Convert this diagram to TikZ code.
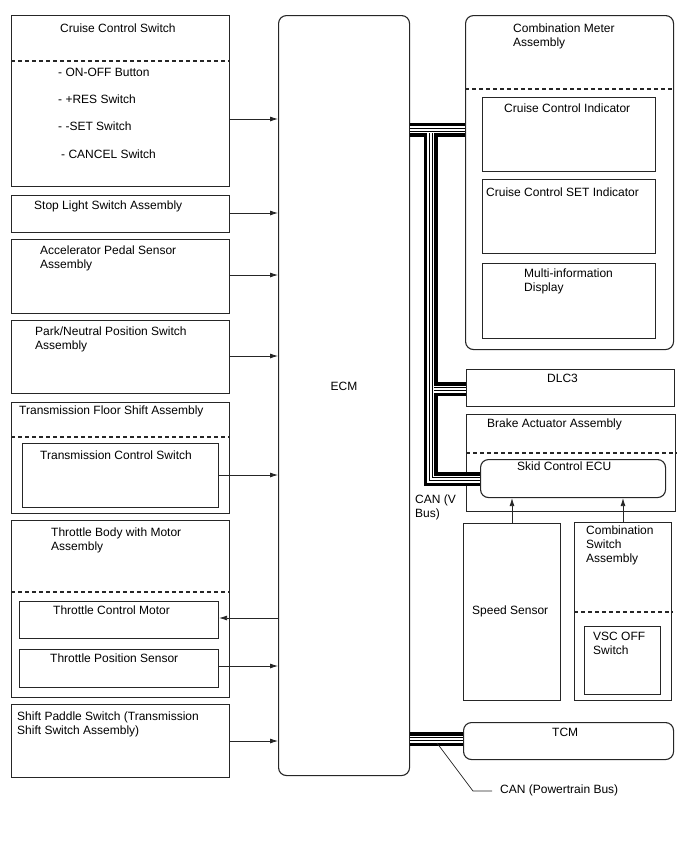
\documentclass[tikz,border=0pt]{standalone}
\usepackage{fontspec}
\setmainfont{Liberation Sans}
\usepackage{tikz}
\usetikzlibrary{arrows.meta}

\begin{document}
\begin{tikzpicture}[x=1pt,y=-1pt,
  every node/.style={font=\fontsize{12}{14}\selectfont},
  blk/.style={draw=black!85, line width=1.1pt, anchor=north west, inner sep=0pt},
  rblk/.style={blk, rounded corners=8pt},
  lbl/.style={anchor=north west, inner sep=0pt, align=left},
  dsh/.style={draw=black!85, line width=1.1pt, dash pattern=on 4pt off 3pt},
  sig/.style={draw=black!85, line width=0.8pt, -{Latex[length=8pt,width=5pt]}},
  canbus/.style={draw=white, line width=2pt,
    preaction={draw=black, line width=14pt},
    preaction={draw=white, line width=7pt},
    preaction={draw=black, line width=4pt}}]
\useasboundingbox (0,0) rectangle (688,852);

% left column
\node[blk, minimum width=218, minimum height=171] (ccs) at (11,15) {};
\draw[dsh] (ccs.west |- 0,61) -- (ccs.east |- 0,61);
\node[lbl] (ccs_t) at (60,24) {Cruise Control Switch};
\node[lbl] (ccs_a) at (58,68) {- ON-OFF Button};
\node[lbl] (ccs_b) at (58,94.5) {- +RES Switch};
\node[lbl] (ccs_c) at (58,122) {- -SET Switch};
\node[lbl] (ccs_d) at (61,150) {- CANCEL Switch};

\node[blk, minimum width=218, minimum height=37] (stp) at (11,195) {};
\node[lbl] (stp_t) at (34,200.5) {Stop Light Switch Assembly};

\node[blk, minimum width=218, minimum height=74] (acc) at (11,239) {};
\node[lbl] (acc_t) at (40,245.5) {Accelerator Pedal Sensor\\Assembly};

\node[blk, minimum width=218, minimum height=73] (pnp) at (11,320) {};
\node[lbl] (pnp_t) at (35,326.5) {Park/Neutral Position Switch\\Assembly};

\node[blk, minimum width=218, minimum height=111] (tfs) at (11,402) {};
\draw[dsh] (tfs.west |- 0,437) -- (tfs.east |- 0,437);
\node[lbl] (tfs_t) at (19,405.5) {Transmission Floor Shift Assembly};
\node[blk, minimum width=196, minimum height=64] (tcs) at (22,443) {};
\node[lbl] (tcs_t) at (40,451) {Transmission Control Switch};

\node[blk, minimum width=218, minimum height=177] (tbm) at (11,520) {};
\draw[dsh] (tbm.west |- 0,592) -- (tbm.east |- 0,592);
\node[lbl] (tbm_t) at (51,528) {Throttle Body with Motor\\Assembly};
\node[blk, minimum width=199, minimum height=37] (tmot) at (19,601) {};
\node[lbl] (tmot_t) at (53,606) {Throttle Control Motor};
\node[blk, minimum width=199, minimum height=38] (tpos) at (19,649) {};
\node[lbl] (tpos_t) at (50,654) {Throttle Position Sensor};

\node[blk, minimum width=218, minimum height=73] (pdl) at (11,704) {};
\node[lbl] (pdl_t) at (17,711.5) {Shift Paddle Switch (Transmission\\Shift Switch Assembly)};

% ECM
\node[rblk, minimum width=131, minimum height=760] (ecm) at (278,15) {};
\node (ecm_t) at (344,386) {ECM};

% right column
\node[rblk, minimum width=208, minimum height=334] (mtr) at (465,15) {};
\draw[dsh] (mtr.west |- 0,89) -- (mtr.east |- 0,89);
\node[lbl] (mtr_t) at (513,24) {Combination Meter\\Assembly};
\node[blk, minimum width=173, minimum height=74] (cci) at (482,97) {};
\node[lbl] (cci_t) at (504,104) {Cruise Control Indicator};
\node[blk, minimum width=173, minimum height=74] (csi) at (482,179) {};
\node[lbl] (csi_t) at (486,188) {Cruise Control SET Indicator};
\node[blk, minimum width=173, minimum height=75] (mid) at (482,263) {};
\node[lbl] (mid_t) at (524,269) {Multi-information\\Display};

\node[blk, minimum width=208, minimum height=37] (dlc) at (466,369) {};
\node[lbl] (dlc_t) at (547,374) {DLC3};

\node[blk, minimum width=209, minimum height=97] (bka) at (466,414) {};
\draw[dsh] (bka.west |- 0,453) -- (bka.east |- 0,453);
\node[lbl] (bka_t) at (487,419) {Brake Actuator Assembly};
\node[rblk, minimum width=185, minimum height=38] (skid) at (480,459) {};
\node[lbl] (skid_t) at (517,462) {Skid Control ECU};

\node[blk, minimum width=97, minimum height=177] (spd) at (463,523) {};
\node[lbl] (spd_t) at (472,605.5) {Speed Sensor};

\node[blk, minimum width=97, minimum height=178] (csw) at (574,522) {};
\draw[dsh] (csw.west |- 0,612) -- (csw.east |- 0,612);
\node[lbl] (csw_t) at (586,526) {Combination\\Switch\\Assembly};
\node[blk, minimum width=76, minimum height=68] (vsc) at (584,626) {};
\node[lbl] (vsc_t) at (593,632) {VSC OFF\\Switch};

\node[rblk, minimum width=210, minimum height=37] (tcm) at (463,722) {};
\node[lbl] (tcm_t) at (552,728) {TCM};

% signal lines
\draw[sig] (ccs.east |- 0,119) -- (ecm.west |- 0,119);
\draw[sig] (stp.east |- 0,213) -- (ecm.west |- 0,213);
\draw[sig] (acc.east |- 0,275) -- (ecm.west |- 0,275);
\draw[sig] (pnp.east |- 0,356) -- (ecm.west |- 0,356);
\draw[sig] (tcs.east |- 0,475) -- (ecm.west |- 0,475);
\draw[sig] (ecm.west |- 0,618) -- (tmot.east |- 0,618);
\draw[sig] (tpos.east |- 0,666) -- (ecm.west |- 0,666);
\draw[sig] (pdl.east |- 0,741) -- (ecm.west |- 0,741);
\draw[sig] (spd.north -| 512,0) -- (skid.south -| 512,0);
\draw[sig] (csw.north -| 623,0) -- (skid.south -| 623,0);

% CAN buses
\draw[canbus] (ecm.east |- 0,129.5) -- (mtr.west |- 0,129.5)
  (430.5,133) -- (430.5,479) -- (skid.west |- 0,479)
  (434,389) -- (dlc.west |- 0,389);
\node[lbl] (canv_t) at (415,495) {CAN (V\\Bus)};

\draw[canbus] (ecm.east |- 0,739) -- (tcm.west |- 0,739);
\coordinate (pt_a) at (437,743);
\coordinate (pt_b) at (473,791);
\coordinate (pt_c) at (492,791);
\draw[black!85, line width=0.7pt] (pt_a) -- (pt_b) -- (pt_c);
\node[lbl] (canp_t) at (500,785) {CAN (Powertrain Bus)};
\end{tikzpicture}
\end{document}
